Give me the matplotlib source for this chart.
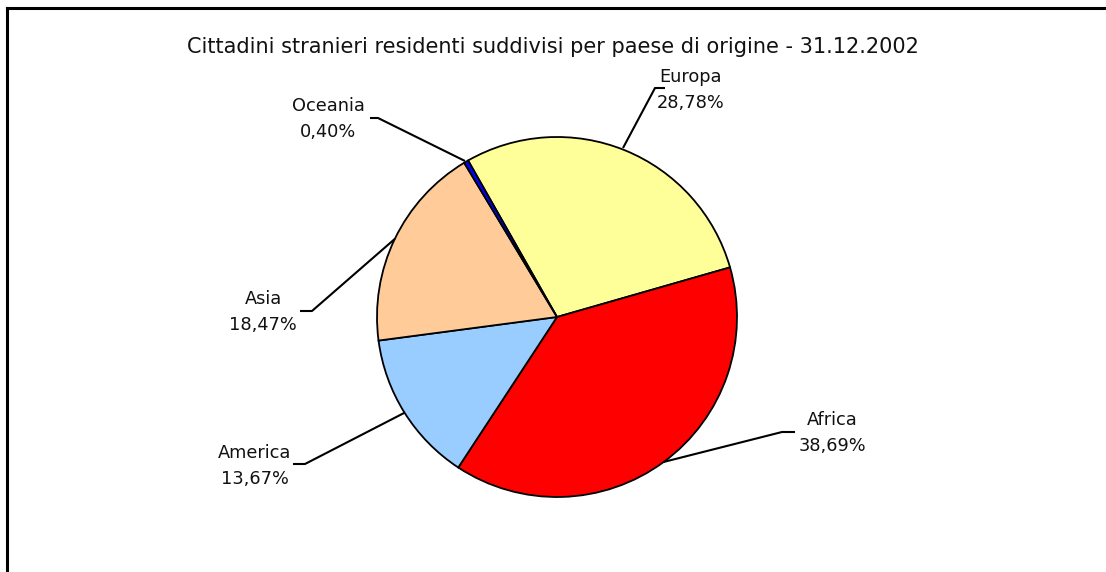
import matplotlib
matplotlib.use("Agg")
import matplotlib.pyplot as plt
from matplotlib.lines import Line2D
import numpy as np

title = "Cittadini stranieri residenti suddivisi per paese di origine - 31.12.2002"
categories = ["Europa", "Africa", "America", "Asia", "Oceania"]
values = [28.78, 38.69, 13.67, 18.47, 0.40]
colors = ["#FFFF99", "#FF0000", "#99CCFF", "#FFCC99", "#0000FF"]

W, H = 1106, 572
CX, CY, R = 557, 317, 180

fig = plt.figure(figsize=(W / 100, H / 100), dpi=100)
ax = fig.add_axes([0, 0, 1, 1])

def px(x, y):
    return ((x - CX) / R, (CY - y) / R)

wedges, _ = ax.pie(values, colors=colors, startangle=119.6, counterclock=False,
                   radius=1.0, center=(0, 0), frame=True,
                   wedgeprops=dict(edgecolor="black", linewidth=1.3))
ax.set_xlim(-CX / R, (W - CX) / R)
ax.set_ylim(-(H - CY) / R, CY / R)
ax.set_aspect("equal")
ax.axis("off")

# leader layout (pixels): elbow point, end of horizontal, text centre
layout = {
    "Europa": dict(elbow=(655, 88), end=(665, 88), text=(691, 90)),
    "Africa": dict(elbow=(782, 432), end=(795, 432), text=(832, 433)),
    "America": dict(elbow=(305, 464), end=(293, 464), text=(255, 466)),
    "Asia": dict(elbow=(312, 311), end=(300, 311), text=(263, 312)),
    "Oceania": dict(elbow=(378, 118), end=(370, 118), text=(328, 119)),
}
edge_override = {"Oceania": (465, 161), "Europa": (623, 148)}

fs = 12.8
for w, cat, v in zip(wedges, categories, values):
    th = np.deg2rad((w.theta1 + w.theta2) / 2)
    ex, ey = np.cos(th), np.sin(th)
    if cat in edge_override:
        ex, ey = px(*edge_override[cat])
    L = layout[cat]
    bx, by = px(*L["elbow"])
    hx, hy = px(*L["end"])
    ax.plot([ex, bx, hx], [ey, by, hy], color="black", lw=1.5, solid_capstyle="butt")
    tx, ty = px(*L["text"])
    ax.text(tx, ty, f"{cat}\n{v:.2f}%".replace(".", ","), ha="center", va="center",
            fontsize=fs, family="DejaVu Sans", linespacing=1.55, color="#111111")

tx, ty = px(553, 47)
ax.text(tx, ty, title, ha="center", va="center", fontsize=15, family="DejaVu Sans",
        color="#111111")

# chart-area border (left and top edges visible)
fig.add_artist(Line2D([6.5 / W, 6.5 / W], [0, 1 - 8 / H], transform=fig.transFigure,
                      color="black", lw=2.2))
fig.add_artist(Line2D([6.5 / W, 1], [1 - 8 / H, 1 - 8 / H], transform=fig.transFigure,
                      color="black", lw=2.2))
fig.savefig("out.png", dpi=100)
